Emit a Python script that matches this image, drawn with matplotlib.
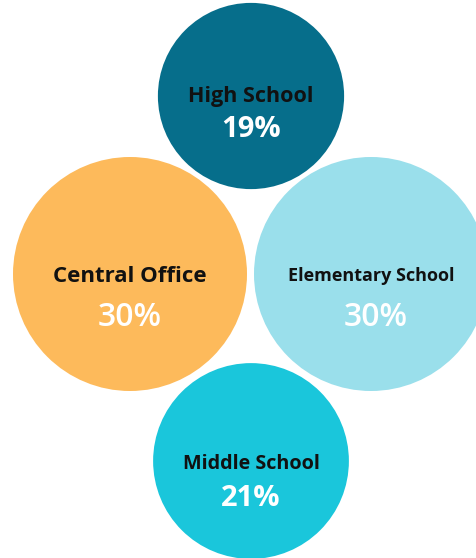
import matplotlib.pyplot as plt
import numpy as np
from matplotlib.patches import Circle

# share of staff by site
labels = ['High School', 'Central Office', 'Elementary School', 'Middle School']
values = [19, 30, 30, 21]
colors = ['#066E8B', '#FDBA5B', '#9ADFEB', '#1AC6DB']

# bubble centres in pixel space (y down)
centers = [(251, 96), (130, 274), (371, 274), (251, 461)]
label_size = [15.5, 16, 13, 14.2]
value_size = [21, 23, 23, 21]
value_weight = ['bold', 'semibold', 'semibold', 'bold']
label_dy = [0, 2, 2, 3]
value_dy = [33, 43, 44, 38]

W, H = 477, 558
fig = plt.figure(figsize=(W / 100, H / 100), dpi=100)
ax = fig.add_axes([0, 0, 1, 1])
ax.set_xlim(0, W)
ax.set_ylim(H, 0)
ax.set_aspect('equal')
ax.axis('off')

# area proportional to the share
k = 117 / np.sqrt(30)
for i, (lab, v) in enumerate(zip(labels, values)):
    cx, cy = centers[i]
    ax.add_patch(Circle((cx, cy), k * np.sqrt(v), fc=colors[i], ec='none'))
    ax.text(cx, cy + label_dy[i], lab, ha='center', va='center',
            fontsize=label_size[i], fontweight='bold', color='#111111',
            family='Open Sans')
    ax.text(cx + (5 if i == 2 else 0), cy + value_dy[i], f'{v}%',
            ha='center', va='center', fontsize=value_size[i],
            fontweight=value_weight[i], color='white', family='Open Sans')

fig.savefig('out.png', dpi=100)
